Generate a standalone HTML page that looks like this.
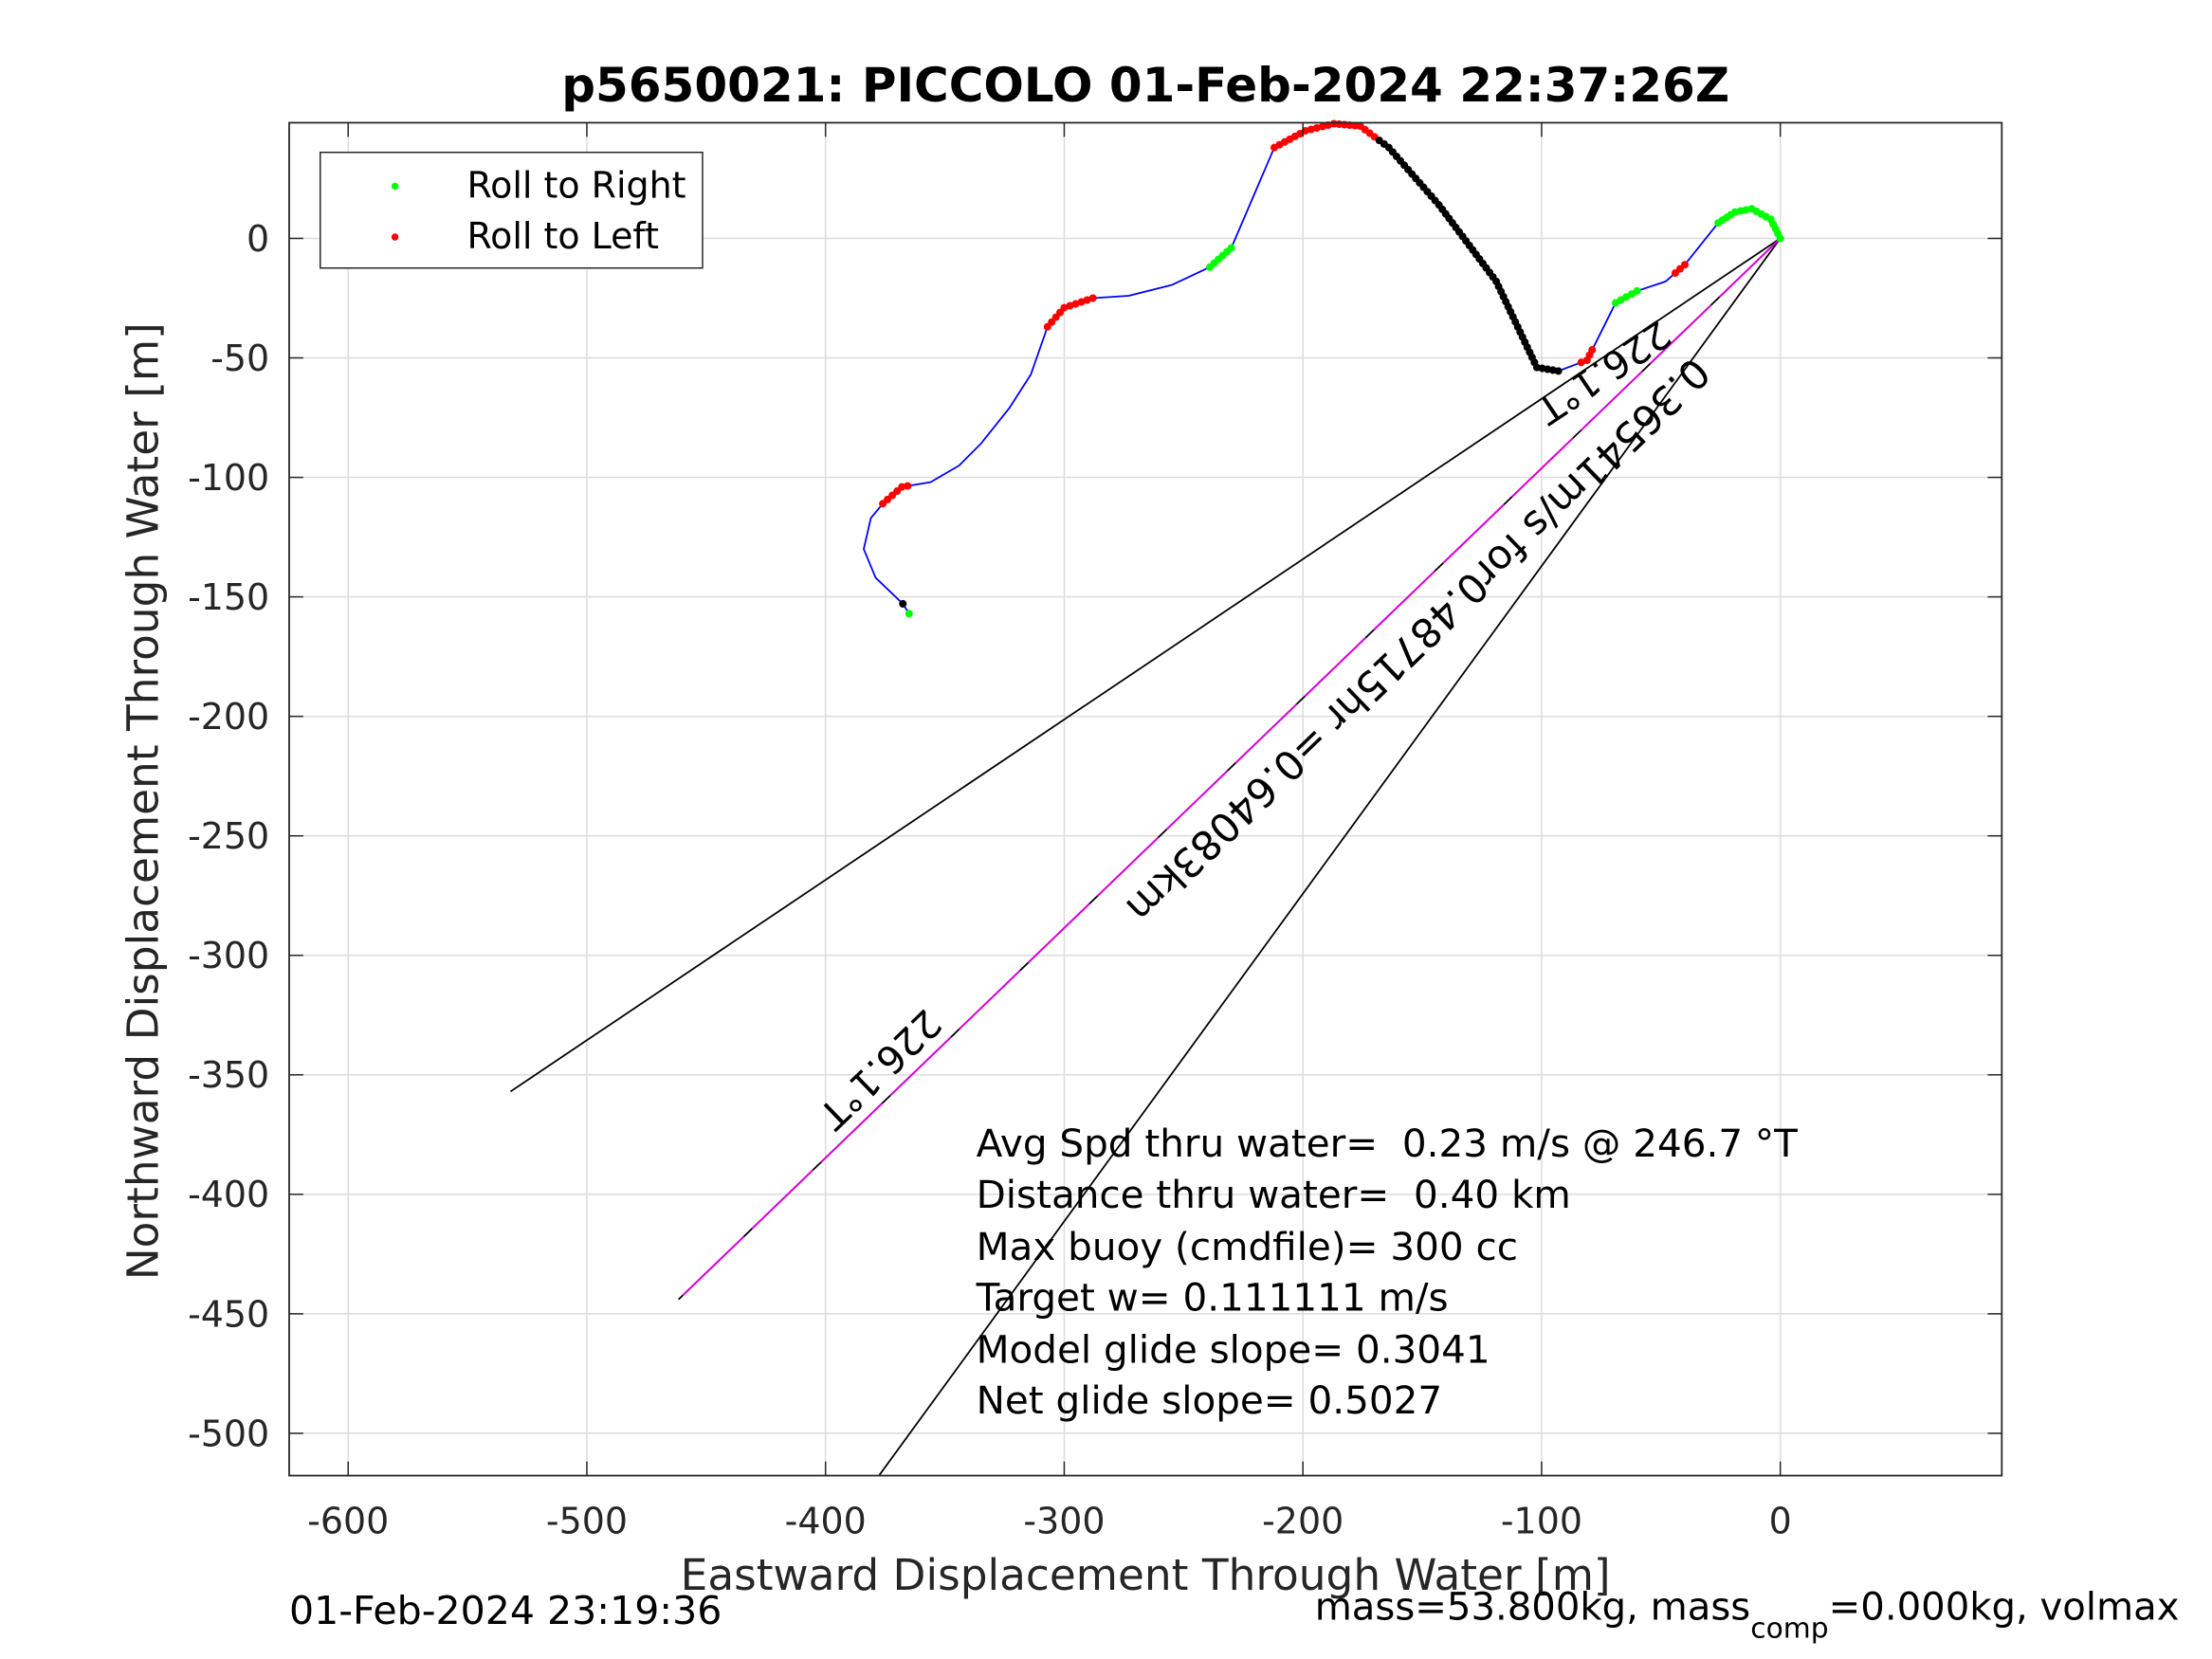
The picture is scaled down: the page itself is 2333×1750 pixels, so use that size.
<!DOCTYPE html>
<html><head><meta charset="utf-8"><style>
html,body{margin:0;padding:0;background:#fff}
svg{display:block}
text{font-family:"DejaVu Sans","Liberation Sans",sans-serif;white-space:pre}
</style></head><body>
<svg id="chart" width="2333" height="1750" viewBox="0 0 1568 1176" preserveAspectRatio="none" xmlns="http://www.w3.org/2000/svg">
<rect width="1568" height="1176" fill="#fff"/>
<text x="812" y="72" font-size="33.6" font-weight="bold" text-anchor="middle">p5650021: PICCOLO 01-Feb-2024 22:37:26Z</text>
<g id="grid"></g>
<g id="lines"></g>
<g id="track"></g>
<rect x="205" y="87" width="1214" height="959" fill="none" stroke="#262626" stroke-width="1.2"/>
<g id="ticks"></g>
<text x="812" y="1127" font-size="30.5" fill="#262626" text-anchor="middle">Eastward Displacement Through Water [m]</text>
<text transform="translate(112,568) rotate(-90)" font-size="30.5" fill="#262626" text-anchor="middle">Northward Displacement Through Water [m]</text>
<g>
<rect x="227" y="108" width="271" height="82" fill="#fff" stroke="#262626" stroke-width="1"/>
<circle cx="280" cy="132" r="2.5" fill="#00ff00"/>
<text x="331" y="140" font-size="25.5">Roll to Right</text>
<circle cx="280" cy="168" r="2.5" fill="#ff0000"/>
<text x="331" y="176" font-size="25.5">Roll to Left</text>
</g>
<g font-size="27.2">
<text x="692" y="820">Avg Spd thru water=  0.23 m/s @ 246.7 °T</text>
<text x="692" y="856">Distance thru water=  0.40 km</text>
<text x="692" y="893">Max buoy (cmdfile)= 300 cc</text>
<text x="692" y="929">Target w= 0.111111 m/s</text>
<text x="692" y="966">Model glide slope= 0.3041</text>
<text x="692" y="1002">Net glide slope= 0.5027</text>
</g>
<text x="205" y="1151" font-size="27.6">01-Feb-2024 23:19:36</text>
<text x="932" y="1148" font-size="27">mass=53.800kg, mass<tspan font-size="20" dy="13">comp</tspan><tspan dy="-13">=0.000kg, volmax</tspan></text>
</svg>
<script>
const xTicks=[-600,-500,-400,-300,-200,-100,0];
const yTicks=[0,-50,-100,-150,-200,-250,-300,-350,-400,-450,-500];
const trackX=[-365,-367.6,-379,-384,-381,-376,-368,-356,-344,-335,-323,-314,-307,-300,-288,-273,-255,-239,-230,-221,-212,-199,-187,-176,-164,-143,-119,-102,-93,-81,-69,-60,-48,-40,-26,-19,-12,-4,0];
const trackY=[-157,-152.9,-142,-130,-117,-111,-104,-102,-95,-86,-71,-57,-37,-29,-25,-24,-19.5,-12,-4,17,38,45,48,47,38,14,-18,-54,-55.5,-51,-27,-22,-18,-11,6.5,11,12.4,8,0];
const headingEndX=[-532,-461.6,-377.6];
const headingEndY=[-357,-444,-517.7];
const segStart=[-376,-307,-240,-212,-168,-84,-70,-44,-27];
const segEnd=[-365,-288,-230,-170,-93,-78,-60,-40,0];
const segColor=['#ff0000','#ff0000','#00ff00','#ff0000','#000000','#ff0000','#00ff00','#ff0000','#00ff00'];
const X0=-624.7,X1=92.8,Y0=-517.7,Y1=48.4,L=205,R=1419,T=87,B=1046;
const sx=v=>L+(v-X0)/(X1-X0)*(R-L);
const sy=v=>B-(v-Y0)/(Y1-Y0)*(B-T);
const NS='http://www.w3.org/2000/svg';
function mk(tag,attrs,parent){const e=document.createElementNS(NS,tag);for(const k in attrs)e.setAttribute(k,attrs[k]);parent.appendChild(e);return e;}
const grid=document.getElementById('grid'),ticks=document.getElementById('ticks');
xTicks.forEach(v=>{
 const g=mk('line',{x1:sx(v),x2:sx(v),y1:T,y2:B,stroke:'#dcdcdc','stroke-width':1},grid);
 
 
 mk('line',{x1:sx(v),x2:sx(v),y1:B,y2:B-10,stroke:'#262626'},ticks);
 mk('line',{x1:sx(v),x2:sx(v),y1:T,y2:T+10,stroke:'#262626'},ticks);
 const t=mk('text',{x:sx(v),y:B+41,'font-size':25.5,fill:'#262626','text-anchor':'middle'},ticks);
 t.textContent=v;
 
 
});
yTicks.forEach(v=>{
 const g=mk('line',{x1:L,x2:R,y1:sy(v),y2:sy(v),stroke:'#dcdcdc','stroke-width':1},grid);
 
 
 mk('line',{x1:L,x2:L+10,y1:sy(v),y2:sy(v),stroke:'#262626'},ticks);
 mk('line',{x1:R,x2:R-10,y1:sy(v),y2:sy(v),stroke:'#262626'},ticks);
 const t=mk('text',{x:L-14,y:sy(v)+9,'font-size':25.5,fill:'#262626','text-anchor':'end'},ticks);
 t.textContent=v;
 
 
});
const lines=document.getElementById('lines');
const clip=mk('clipPath',{id:'pc'},mk('defs',{},document.getElementById('chart')));
mk('rect',{x:L,y:T,width:R-L,height:B-T},clip);
lines.setAttribute('clip-path','url(#pc)');
headingEndX.forEach((x,i)=>{
 const l=mk('line',{x1:sx(0),y1:sy(0),x2:sx(x),y2:sy(headingEndY[i]),stroke:'#000','stroke-width':1.2},lines);
 
 
});
const mg=mk('line',{x1:sx(0),y1:sy(0),x2:sx(headingEndX[1]),y2:sy(headingEndY[1]),stroke:'#e000e0','stroke-width':1.3,'stroke-dasharray':'60 8'},lines);


function rtext(txt,x,y,ang,fs,name){const t=mk('text',{transform:`translate(${x},${y}) rotate(${ang})`,'font-size':fs},lines);t.textContent=txt;
 
 }
rtext('226.1°T',1176,226,146,27,'heading-label-top');
rtext('0.36541m/s for0.48715hr =0.64083km',1200,252,136,28.5,'speed-label');
rtext('226.1°T',656,714,136,27,'heading-label-bottom');
const track=document.getElementById('track');
const pts=trackX.map((x,i)=>sx(x)+','+sy(trackY[i])).join(' ');
const pl=mk('polyline',{points:pts,fill:'none',stroke:'#0000ff','stroke-width':1.2,'stroke-linejoin':'round'},track);


function dot(x,y,c,name){const d=mk('circle',{cx:x,cy:y,r:2.7,fill:c},track);
 
 }
for(let i=2;i<trackX.length-1;i++){
 const ax=sx(trackX[i]),ay=sy(trackY[i]),bx=sx(trackX[i+1]),by=sy(trackY[i+1]);
 const n=Math.max(1,Math.round(Math.hypot(bx-ax,by-ay)/4));
 for(let k=0;k<n;k++){const f=k/n;const dx=trackX[i]+(trackX[i+1]-trackX[i])*f;
  for(let s=0;s<segStart.length;s++){if(dx>=segStart[s]&&dx<=segEnd[s]){dot(ax+(bx-ax)*f,ay+(by-ay)*f,segColor[s],'roll-marker');break;}}}
}
dot(sx(trackX[1]),sy(trackY[1]),'#000','start-marker');
dot(sx(trackX[0]),sy(trackY[0]),'#00ff00','end-marker');
dot(sx(0),sy(0),'#00ff00','origin-marker');
</script>
</body></html>
